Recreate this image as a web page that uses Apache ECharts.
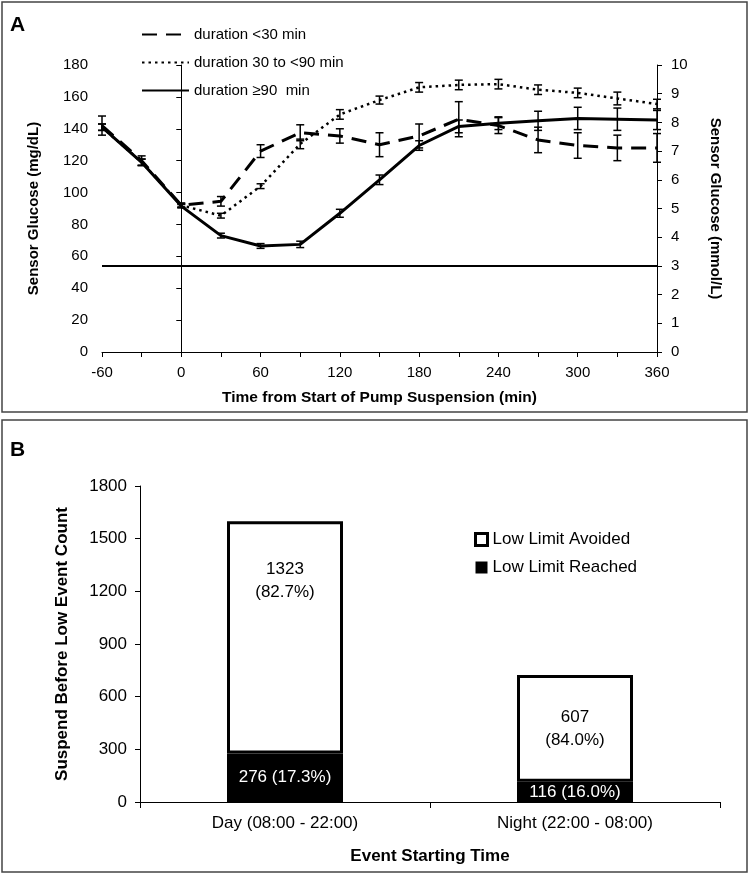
<!DOCTYPE html>
<html>
<head>
<meta charset="utf-8">
<script src="https://cdn.jsdelivr.net/npm/echarts@6/dist/echarts.min.js"></script>
<style>html,body{margin:0;padding:0;background:#fff;}#c{width:750px;height:875px;}</style>
</head>
<body>
<div id="c"></div>
<script>
// ---------- Panel A data ----------
const times = [-60, -30, 0, 30, 60, 90, 120, 150, 180, 210, 240, 270, 300, 330, 360];
const shortMean = [142, 120, 92, 94.5, 126, 137.5, 135.5, 130, 135.5, 146, 142, 133, 129.5, 128, 128];
const shortErr  = [6, 3, 1.5, 3, 4, 5, 4.5, 7.5, 7.5, 11, 5, 8, 8, 8, 9];
const midMean   = [141, 119, 92, 85.5, 104, 130.5, 149, 158, 166, 167.5, 168, 164.5, 162.5, 159, 155.5];
const midErr    = [2, 2, 1, 1.5, 1.5, 3, 3, 2.5, 3, 3, 3, 3, 3, 4, 3];
const longMean  = [141, 119, 91.5, 73, 66.5, 67.5, 87, 108, 129.5, 141.5, 143.5, 145, 146.5, 146, 145.5];
const longErr   = [2, 2, 1, 1.5, 1.5, 2, 2.5, 3, 3, 4, 4, 6, 7, 7, 6];
const lowLimit = 54;
const seriesNames = ['duration <30 min', 'duration 30 to <90 min', 'duration \u226590  min'];

// ---------- Panel B data ----------
const periods = ['Day (08:00 - 22:00)', 'Night (22:00 - 08:00)'];
const reached = [276, 116];
const avoided = [1323, 607];
const barNames = ['Low Limit Avoided', 'Low Limit Reached'];

const F = 'Arial, "Liberation Sans", sans-serif';

function pairs(m) { return times.map((t, i) => [t, m[i]]); }
function errs(m, e) { return times.map((t, i) => [t, m[i] - e[i], m[i] + e[i]]); }
function errRender(params, api) {
  const x = api.value(0), lo = api.value(1), hi = api.value(2);
  const p1 = api.coord([x, lo]), p2 = api.coord([x, hi]);
  const w = 4;
  const style = { stroke: '#000', lineWidth: 1.5 };
  return { type: 'group', children: [
    { type: 'line', shape: { x1: p1[0], y1: p1[1], x2: p2[0], y2: p2[1] }, style },
    { type: 'line', shape: { x1: p1[0] - w, y1: p1[1], x2: p1[0] + w, y2: p1[1] }, style },
    { type: 'line', shape: { x1: p2[0] - w, y1: p2[1], x2: p2[0] + w, y2: p2[1] }, style }
  ]};
}
function pct(a, b) { return (a / (a + b) * 100).toFixed(1) + '%'; }

const chart = echarts.init(document.getElementById('c'), null, { renderer: 'canvas' });
const axisBlack = { lineStyle: { color: '#000', width: 1 } };
const tickBlack = (len) => ({ show: true, length: len, lineStyle: { color: '#000' } });

chart.setOption({
  animation: false,
  backgroundColor: '#fff',
  textStyle: { fontFamily: F, color: '#000' },
  graphic: [
    { type: 'rect', shape: { x: 2, y: 2, width: 745, height: 410 }, style: { fill: 'none', stroke: '#444', lineWidth: 1.5 } },
    { type: 'rect', shape: { x: 2, y: 420, width: 745, height: 452 }, style: { fill: 'none', stroke: '#444', lineWidth: 1.5 } },
    { type: 'text', left: 10, top: 15, style: { text: 'A', font: 'bold 21px ' + F, fill: '#000' } },
    { type: 'text', left: 10, top: 440, style: { text: 'B', font: 'bold 21px ' + F, fill: '#000' } }
  ],
  legend: [
    {
      data: seriesNames, orient: 'vertical', left: 136, top: 22,
      itemWidth: 47, itemHeight: 14, itemGap: 13,
      itemStyle: { opacity: 0 },
      textStyle: { fontFamily: F, fontSize: 15, color: '#000' }
    },
    {
      data: [
        { name: barNames[0], itemStyle: { color: '#fff', borderColor: '#000', borderWidth: 3 } },
        { name: barNames[1], itemStyle: { color: '#000', borderColor: '#000', borderWidth: 0 } }
      ],
      orient: 'vertical', left: 469, top: 526,
      itemWidth: 12, itemHeight: 12, itemGap: 11, icon: 'rect',
      textStyle: { fontFamily: F, fontSize: 17, color: '#000' }
    }
  ],
  grid: [
    { left: 102, right: 93, top: 65, height: 287 },
    { left: 140, right: 30, top: 486, height: 316 }
  ],
  xAxis: [
    {
      gridIndex: 0, type: 'value', min: -60, max: 360, interval: 60,
      axisLine: axisBlack, axisTick: tickBlack(5),
      minorTick: { show: true, splitNumber: 2, length: 5, lineStyle: { color: '#000' } },
      splitLine: { show: false },
      axisLabel: { fontSize: 15, color: '#000', fontFamily: F, margin: 13 },
      name: 'Time from Start of Pump Suspension (min)', nameLocation: 'middle', nameGap: 38,
      nameTextStyle: { fontWeight: 'bold', fontSize: 15.5, fontFamily: F, color: '#000' }
    },
    {
      gridIndex: 1, type: 'category', data: periods,
      axisLine: axisBlack, axisTick: tickBlack(6),
      axisLabel: { fontSize: 17, color: '#000', fontFamily: F, margin: 13 },
      name: 'Event Starting Time', nameLocation: 'middle', nameGap: 46,
      nameTextStyle: { fontWeight: 'bold', fontSize: 17, fontFamily: F, color: '#000' }
    }
  ],
  yAxis: [
    {
      gridIndex: 0, type: 'value', min: 0, max: 180, interval: 20,
      axisLine: { show: true, lineStyle: { color: '#000' } },
      axisTick: tickBlack(5),
      splitLine: { show: false },
      axisLabel: { fontSize: 15, color: '#000', fontFamily: F, margin: 14 },
      name: 'Sensor Glucose (mg/dL)', nameLocation: 'middle', nameGap: 61,
      nameTextStyle: { fontWeight: 'bold', fontSize: 15, fontFamily: F, color: '#000' }
    },
    {
      gridIndex: 0, type: 'value', min: 0, max: 10, interval: 1, position: 'right',
      axisLine: { show: true, lineStyle: { color: '#000' } },
      axisTick: tickBlack(5),
      splitLine: { show: false },
      axisLabel: { fontSize: 15, color: '#000', fontFamily: F, margin: 14 },
      name: 'Sensor Glucose (mmol/L)', nameLocation: 'middle', nameGap: 51, nameRotate: -90,
      nameTextStyle: { fontWeight: 'bold', fontSize: 15, fontFamily: F, color: '#000' }
    },
    {
      gridIndex: 1, type: 'value', min: 0, max: 1800, interval: 300,
      axisLine: { show: true, lineStyle: { color: '#000' } },
      axisTick: tickBlack(5),
      splitLine: { show: false },
      axisLabel: { fontSize: 17, color: '#000', fontFamily: F, margin: 13, formatter: v => String(v) },
      name: 'Suspend Before Low Event Count', nameLocation: 'middle', nameGap: 69,
      nameTextStyle: { fontWeight: 'bold', fontSize: 17, fontFamily: F, color: '#000' }
    }
  ],
  series: [
    {
      name: seriesNames[0], type: 'line', xAxisIndex: 0, yAxisIndex: 0, data: pairs(shortMean),
      symbol: 'none', lineStyle: { color: '#000', width: 3, type: [15, 9] }, itemStyle: { color: '#000' }
    },
    {
      name: seriesNames[1], type: 'line', xAxisIndex: 0, yAxisIndex: 0, data: pairs(midMean),
      symbol: 'none', lineStyle: { color: '#000', width: 2.5, type: [2.5, 4] }, itemStyle: { color: '#000' }
    },
    {
      name: seriesNames[2], type: 'line', xAxisIndex: 0, yAxisIndex: 0, data: pairs(longMean),
      symbol: 'none', lineStyle: { color: '#000', width: 3 }, itemStyle: { color: '#000' },
      markLine: {
        silent: true, symbol: 'none', label: { show: false },
        lineStyle: { color: '#000', width: 2, type: 'solid' },
        data: [{ yAxis: lowLimit }]
      }
    },
    { type: 'custom', xAxisIndex: 0, yAxisIndex: 0, renderItem: errRender, data: errs(shortMean, shortErr), encode: { x: 0, y: [1, 2] }, clip: false, z: 3 },
    { type: 'custom', xAxisIndex: 0, yAxisIndex: 0, renderItem: errRender, data: errs(midMean, midErr), encode: { x: 0, y: [1, 2] }, clip: false, z: 3 },
    { type: 'custom', xAxisIndex: 0, yAxisIndex: 0, renderItem: errRender, data: errs(longMean, longErr), encode: { x: 0, y: [1, 2] }, clip: false, z: 3 },
    {
      name: barNames[1], type: 'bar', stack: 'b', xAxisIndex: 1, yAxisIndex: 2, barWidth: '40%',
      itemStyle: { color: '#000', borderColor: '#000', borderWidth: 3 },
      data: reached,
      label: {
        show: true, position: 'inside',
        color: '#fff', fontFamily: F, fontSize: 17,
        formatter: p => reached[p.dataIndex] + ' (' + pct(reached[p.dataIndex], avoided[p.dataIndex]) + ')'
      }
    },
    {
      name: barNames[0], type: 'bar', stack: 'b', xAxisIndex: 1, yAxisIndex: 2, barWidth: '40%',
      itemStyle: { color: '#fff', borderColor: '#000', borderWidth: 3 },
      data: avoided.map((v, i) => ({
        value: v,
        label: { show: true, position: i === 0 ? ['50%', 60] : 'inside' }
      })),
      label: {
        color: '#000', fontFamily: F, fontSize: 17, lineHeight: 23, align: 'center', verticalAlign: 'middle',
        formatter: p => avoided[p.dataIndex] + '\n(' + pct(avoided[p.dataIndex], reached[p.dataIndex]) + ')'
      }
    }
  ]
});
</script>
</body>
</html>
